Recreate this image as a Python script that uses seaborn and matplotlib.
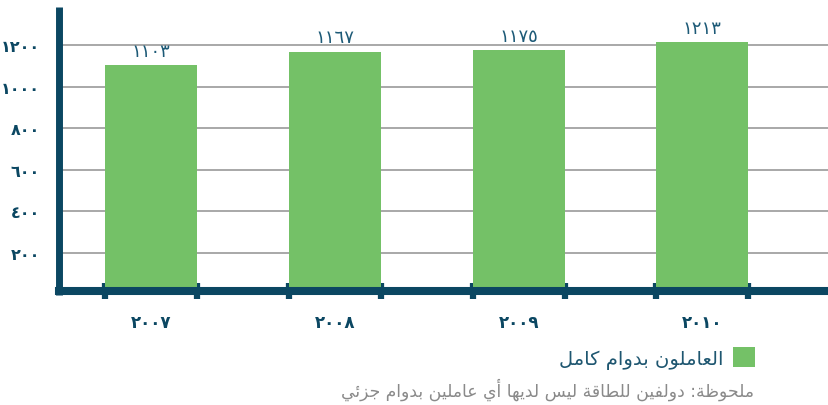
import matplotlib
matplotlib.use("Agg")
import matplotlib.pyplot as plt
import seaborn as sns
from matplotlib.patches import Patch

# ---------------- data ----------------
years = ["2007", "2008", "2009", "2010"]
employees = [1103, 1167, 1175, 1213]
y_ticks = [200, 400, 600, 800, 1000, 1200]
legend_label = "العاملون بدوام كامل"
note_text = "ملحوظة: دولفين للطاقة ليس لديها أي عاملين بدوام جزئي"

# ---------------- styling ----------------
GREEN = "#74c167"
DARK = "#0b4762"
VAL = "#1d5a77"
GRID = "#9a9a9a"
NOTE = "#8a8a8a"

AR_DIGITS = str.maketrans("0123456789", "٠١٢٣٤٥٦٧٨٩")


def ar_num(v):
    return str(v).translate(AR_DIGITS)


# minimal Arabic shaping (presentation forms) + RTL ordering
FORMS = {
    'ا': (0xFE8D, 2), 'أ': (0xFE83, 2), 'ب': (0xFE8F, 4), 'ة': (0xFE93, 2),
    'ت': (0xFE95, 4), 'ج': (0xFE9D, 4), 'ح': (0xFEA1, 4), 'د': (0xFEA9, 2),
    'ر': (0xFEAD, 2), 'ز': (0xFEAF, 2), 'س': (0xFEB1, 4), 'ط': (0xFEC1, 4),
    'ظ': (0xFEC5, 4), 'ع': (0xFEC9, 4), 'ف': (0xFED1, 4), 'ق': (0xFED5, 4),
    'ك': (0xFED9, 4), 'ل': (0xFEDD, 4), 'م': (0xFEE1, 4), 'ن': (0xFEE5, 4),
    'ه': (0xFEE9, 4), 'و': (0xFEED, 2), 'ي': (0xFEF1, 4), 'ئ': (0xFE89, 4),
}


def shape(s):
    out = []
    n = len(s)
    for i, c in enumerate(s):
        if c not in FORMS:
            out.append(c)
            continue
        base, k = FORMS[c]
        prev = s[i - 1] if i > 0 else None
        nxt = s[i + 1] if i + 1 < n else None
        jp = prev in FORMS and FORMS[prev][1] == 4
        jn = k == 4 and nxt in FORMS
        if jp and jn:
            code = base + 3
        elif jp:
            code = base + 1
        elif jn:
            code = base + 2
        else:
            code = base
        out.append(chr(code))
    return "".join(reversed(out))


sns.set_style("white")
plt.rcParams["font.family"] = ["DejaVu Sans"]

fig = plt.figure(figsize=(8.29, 4.06), dpi=100)
ax = fig.add_axes([59.5 / 829, 1 - 295.6 / 406, 1 - 59.5 / 829, (295.6 - 8) / 406])

year_labels = [ar_num(y) for y in years]
sns.barplot(x=year_labels, y=employees, color=GREEN, saturation=1, width=0.5,
            linewidth=0, edgecolor="none", ax=ax, zorder=3)

ax.set_xlim(-0.5, 3.69)
ax.set_ylim(0, 1383)
ax.set_xlabel("")
ax.set_ylabel("")

ax.grid(axis="y", color=GRID, linewidth=1.2)
ax.grid(axis="x", visible=False)
ax.set_axisbelow(True)

for s in ["top", "right"]:
    ax.spines[s].set_visible(False)
ax.spines["left"].set_color(DARK)
ax.spines["left"].set_linewidth(5)
ax.spines["left"].set_capstyle("butt")
ax.spines["bottom"].set_color(DARK)
ax.spines["bottom"].set_linewidth(5.8)
ax.spines["bottom"].set_position(("outward", -2.4))
for s in ["left", "bottom"]:
    ax.spines[s].set_zorder(5)

edges = []
for i in range(len(years)):
    edges += [i - 0.25, i + 0.25]
ax.set_xticks(edges, minor=True)
ax.tick_params(axis="x", which="both", bottom=True)
ax.tick_params(axis="x", which="major", length=0, pad=16)
ax.tick_params(axis="x", which="minor", length=11, width=4.5, direction="inout", color=DARK)
ax.tick_params(axis="y", left=False, length=0, pad=14)

# tick labels styled last
ax.set_yticks(y_ticks)
ax.set_yticklabels([ar_num(t) for t in y_ticks], fontsize=11.5, fontweight="bold", color=DARK)
ax.set_xticks(range(len(years)))
ax.set_xticklabels(year_labels, fontsize=12, fontweight="bold", color=DARK)
for t in ax.xaxis.get_minor_ticks():
    t.tick1line.set_zorder(6)

for i, v in enumerate(employees):
    ax.annotate(ar_num(v), (i, v), xytext=(0, 4), textcoords="offset points",
                ha="center", va="bottom", fontsize=13, color=VAL)

handle = Patch(facecolor=GREEN, edgecolor="none")
leg = fig.legend([handle], [shape(legend_label)], loc="center right",
                 bbox_to_anchor=(755 / 829, 1 - 359 / 406), frameon=False,
                 markerfirst=False, fontsize=14, handlelength=1.15, handleheight=1.15,
                 handletextpad=0.45, borderpad=0, borderaxespad=0)
for t in leg.get_texts():
    t.set_color("#1e5670")

fig.text(754 / 829, 1 - 390 / 406, shape(note_text), ha="right", va="center",
         fontsize=12.4, color=NOTE)

fig.savefig("out.png", dpi=100)
